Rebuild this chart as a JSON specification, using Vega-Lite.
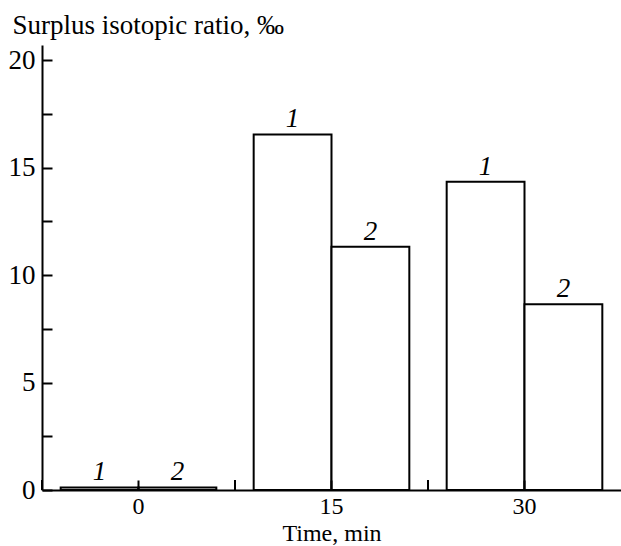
{
  "$schema": "https://vega.github.io/schema/vega-lite/v6.json",
  "autosize": "none",
  "width": 579,
  "height": 445,
  "padding": {"left": 42, "top": 45, "right": 0, "bottom": 56},
  "background": "white",
  "config": {"view": {"stroke": null}, "font": "Liberation Serif"},
  "data": {"values": [
    {"time": "0", "series": "1", "value": 0.12},
    {"time": "0", "series": "2", "value": 0.12},
    {"time": "15", "series": "1", "value": 16.54},
    {"time": "15", "series": "2", "value": 11.32},
    {"time": "30", "series": "1", "value": 14.34},
    {"time": "30", "series": "2", "value": 8.64}
  ]},
  "layer": [
    {
      "mark": {"type": "bar", "fill": "white", "stroke": "black", "strokeWidth": 2},
      "encoding": {
        "x": {"field": "time", "type": "nominal", "sort": ["0", "15", "30"],
          "scale": {"paddingInner": 0, "paddingOuter": 0},
          "axis": {"title": "Time, min", "labelAngle": 0, "tickSize": -10, "tickWidth": 2, "tickColor": "black",
            "domainColor": "black", "domainWidth": 2, "labelFontSize": 24, "labelColor": "black", "labelPadding": 14,
            "titleFontSize": 24, "titleFontWeight": "normal", "titleColor": "black", "titlePadding": 3, "zindex": 1}},
        "xOffset": {"field": "series", "type": "nominal", "scale": {"paddingOuter": 0.24, "paddingInner": 0}},
        "y": {"field": "value", "type": "quantitative", "scale": {"domain": [0, 20.7], "nice": false},
          "axis": {"values": [0, 2.5, 5, 7.5, 10, 12.5, 15, 17.5, 20],
            "labelExpr": "datum.value % 5 === 0 ? datum.label : ''",
            "tickSize": -10, "tickWidth": 2, "tickColor": "black", "domainColor": "black", "domainWidth": 2,
            "labelFontSize": 27, "labelColor": "black", "labelPadding": 17, "grid": false, "zindex": 1,
            "title": "Surplus isotopic ratio, ‰", "titleAngle": 0, "titleAlign": "left", "titleBaseline": "alphabetic",
            "titleX": -30, "titleY": -12, "titleFontSize": 27, "titleFontWeight": "normal", "titleColor": "black"}}
      }
    },
    {
      "mark": {"type": "text", "baseline": "alphabetic", "dy": -7, "fontStyle": "italic", "fontSize": 27, "font": "Liberation Serif", "color": "black"},
      "encoding": {
        "x": {"field": "time", "type": "nominal", "sort": ["0", "15", "30"]},
        "xOffset": {"field": "series", "type": "nominal"},
        "y": {"field": "value", "type": "quantitative"},
        "text": {"field": "series"}
      }
    },
    {
      "mark": {"type": "rule", "strokeWidth": 2, "color": "black"},
      "encoding": {
        "x": {"field": "time", "type": "nominal", "sort": ["0", "15", "30"], "bandPosition": 0},
        "y": {"datum": 0},
        "y2": {"datum": 0.465}
      }
    }
  ]
}
